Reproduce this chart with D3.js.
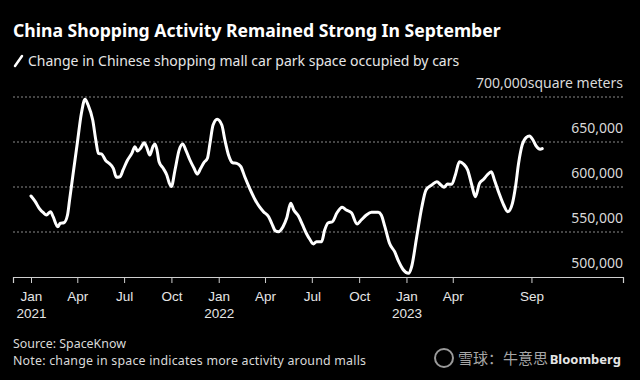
<!DOCTYPE html>
<html>
<head>
<meta charset="utf-8">
<script src="https://cdn.jsdelivr.net/npm/d3@7"></script>
<style>
  html, body { margin: 0; padding: 0; background: #000; }
  svg { display: block; font-family: "Noto Sans", "Open Sans", sans-serif; }
</style>
</head>
<body>
<div id="chart"></div>
<script>
// weekly-ish readings of the mall car park series
var dates = [
  "2021-01-01","2021-01-09","2021-01-17","2021-01-25","2021-01-31","2021-02-08","2021-02-13","2021-02-22",
  "2021-02-27","2021-03-06","2021-03-13","2021-03-17","2021-03-24","2021-04-01","2021-04-09","2021-04-16",
  "2021-04-22","2021-05-01","2021-05-07","2021-05-12","2021-05-18","2021-05-27","2021-06-02","2021-06-10",
  "2021-06-16","2021-06-23","2021-06-29","2021-07-07","2021-07-16","2021-07-22","2021-07-27","2021-08-02",
  "2021-08-09","2021-08-14","2021-08-20","2021-08-26","2021-08-30","2021-09-03","2021-09-07","2021-09-15",
  "2021-09-22","2021-09-27","2021-10-01","2021-10-08","2021-10-16","2021-10-23","2021-10-29","2021-11-06",
  "2021-11-14","2021-11-20","2021-11-27","2021-12-03","2021-12-10","2021-12-15","2021-12-21","2021-12-29",
  "2022-01-07","2022-01-13","2022-01-20","2022-01-28","2022-02-05","2022-02-13","2022-02-21","2022-03-03",
  "2022-03-13","2022-03-21","2022-03-29","2022-04-08","2022-04-14","2022-04-21","2022-04-27","2022-05-06",
  "2022-05-13","2022-05-21","2022-05-27","2022-06-05","2022-06-13","2022-06-21","2022-06-27","2022-07-04",
  "2022-07-10","2022-07-20","2022-07-26","2022-08-02","2022-08-10","2022-08-19","2022-08-29","2022-09-06",
  "2022-09-16","2022-09-27","2022-10-05","2022-10-15","2022-10-25","2022-11-07","2022-11-13","2022-11-20",
  "2022-11-29","2022-12-09","2022-12-17","2022-12-25","2023-01-05","2023-01-11","2023-01-21","2023-01-31",
  "2023-02-08","2023-02-19","2023-03-01","2023-03-09","2023-03-15","2023-03-22","2023-03-30","2023-04-06",
  "2023-04-14","2023-04-22","2023-04-30","2023-05-08","2023-05-15","2023-05-23","2023-05-31","2023-06-07",
  "2023-06-15","2023-06-21","2023-06-30","2023-07-09","2023-07-17","2023-07-26","2023-08-01","2023-08-07",
  "2023-08-14","2023-08-22","2023-08-28","2023-09-04","2023-09-10","2023-09-18","2023-09-22"
];
var spaceValues = [
  590000,584000,576300,571400,568900,572600,567000,555900,
  559700,560300,568900,585600,615200,648600,681900,697400,
  691100,674400,652200,637400,636700,628900,626300,620800,
  610800,611400,618900,629200,637400,644800,640000,643000,
  649200,644100,635600,644800,647800,641100,628100,620800,
  613300,604100,600500,618900,641000,647800,641100,630000,
  620800,614400,620800,627000,631900,648600,668900,675200,
  668900,652200,635600,627000,626300,622600,610800,597400,
  585600,578100,572600,567000,559700,551400,550300,555900,
  565200,581900,574400,567800,557800,547800,541900,536700,
  539200,539200,552200,560300,561400,571400,577400,574400,
  571400,558900,563300,568900,571900,571900,568900,555900,
  537400,528100,517000,508600,504100,511400,544800,578100,
  596700,602200,605900,602200,599700,603300,603000,613300,
  628100,625600,618900,602200,589200,604100,608600,613300,
  617000,607800,593000,580000,572600,581900,600300,626300,
  646700,655200,656700,652200,645600,641900,642600
];
var yTicks = [500000, 550000, 600000, 650000, 700000];
var xTickDates = ["2021-01-01","2021-04-01","2021-07-01","2021-10-01","2022-01-01","2022-04-01",
                  "2022-07-01","2022-10-01","2023-01-01","2023-04-01","2023-09-01"];
var xTickLabels = [["Jan","2021"],["Apr"],["Jul"],["Oct"],["Jan","2022"],["Apr"],
                   ["Jul"],["Oct"],["Jan","2023"],["Apr"],["Sep"]];

var width = 640, height = 380;
var parse = d3.timeParse("%Y-%m-%d");

var svg = d3.select("#chart").append("svg")
  .attr("width", width)
  .attr("height", height);

svg.append("rect").attr("width", width).attr("height", height).attr("fill", "#000");

var x = d3.scaleTime()
  .domain([parse("2020-11-27"), parse("2024-02-26")])
  .range([13, 623]);

var y = d3.scaleLinear()
  .domain([500000, 700000])
  .range([277, 97]);

// titles
svg.append("text")
  .attr("x", 13).attr("y", 37)
  .attr("fill", "#fff")
  .attr("font-size", 17.6)
  .attr("font-weight", "bold")
  .text("China Shopping Activity Remained Strong In September");

svg.append("line")
  .attr("x1", 15).attr("y1", 66).attr("x2", 22).attr("y2", 56)
  .attr("stroke", "#fff").attr("stroke-width", 2.5).attr("stroke-linecap", "round");

svg.append("text")
  .attr("x", 28).attr("y", 66)
  .attr("fill", "#e6e6e6")
  .attr("font-size", 14)
  .text("Change in Chinese shopping mall car park space occupied by cars");

// gridlines (dotted) except baseline
svg.append("g")
  .selectAll("line")
  .data(yTicks.filter(function(d) { return d > 500000; }))
  .enter().append("line")
    .attr("x1", 13).attr("x2", 623)
    .attr("y1", function(d) { return y(d); })
    .attr("y2", function(d) { return y(d); })
    .attr("stroke", "#8a8a8a")
    .attr("stroke-width", 1)
    .attr("stroke-dasharray", "2,2");

// y labels sit above their gridline
svg.append("g")
  .selectAll("text")
  .data(yTicks)
  .enter().append("text")
    .attr("x", 623)
    .attr("y", function(d) { return y(d) - 9; })
    .attr("text-anchor", "end")
    .attr("fill", "#d9d9d9")
    .attr("font-size", 14)
    .text(function(d) {
      return d === 700000 ? d3.format(",")(d) + "square meters" : d3.format(",")(d);
    });

// x axis
var xAxis = d3.axisBottom(x)
  .tickValues(xTickDates.map(parse))
  .tickSize(6)
  .tickFormat("");

var gx = svg.append("g")
  .attr("transform", "translate(0," + y(500000) + ")")
  .call(xAxis);
gx.select(".domain").attr("stroke", "#cfcfcf").attr("stroke-width", 1.2);
gx.selectAll(".tick line").attr("stroke", "#cfcfcf");

gx.selectAll(".tick").each(function(d, i) {
  var t = d3.select(this).append("text")
    .attr("fill", "#e6e6e6")
    .attr("font-size", 13.5)
    .attr("text-anchor", "middle");
  xTickLabels[i].forEach(function(s, j) {
    t.append("tspan").attr("x", 0).attr("y", 24 + j * 17).text(s);
  });
});

// the series
var line = d3.line()
  .x(function(d, i) { return x(parse(dates[i])); })
  .y(function(d) { return y(d); })
  .curve(d3.curveMonotoneX);

svg.append("path")
  .datum(spaceValues)
  .attr("fill", "none")
  .attr("stroke", "#fff")
  .attr("stroke-width", 3)
  .attr("stroke-linejoin", "round")
  .attr("stroke-linecap", "round")
  .attr("d", line);

// footer
svg.append("text")
  .attr("x", 13).attr("y", 348)
  .attr("fill", "#d9d9d9")
  .attr("font-size", 12.4)
  .text("Source: SpaceKnow");

svg.append("text")
  .attr("x", 13).attr("y", 365)
  .attr("fill", "#d9d9d9")
  .attr("font-size", 12.4)
  .attr("textLength", 353)
  .text("Note: change in space indicates more activity around malls");

// watermark + logo
svg.append("circle")
  .attr("cx", 444).attr("cy", 358).attr("r", 9)
  .attr("fill", "none").attr("stroke", "#9a9a9a").attr("stroke-width", 2);
svg.append("text")
  .attr("x", 458).attr("y", 364)
  .attr("fill", "#a6a6a6")
  .attr("font-family", "Noto Sans CJK SC")
  .attr("font-size", 15)
  .text("雪球：牛意思");
svg.append("text")
  .attr("x", 621).attr("y", 364)
  .attr("text-anchor", "end")
  .attr("fill", "#e6e6e6")
  .attr("font-size", 13)
  .attr("font-weight", "bold")
  .text("Bloomberg");
</script>
</body>
</html>
